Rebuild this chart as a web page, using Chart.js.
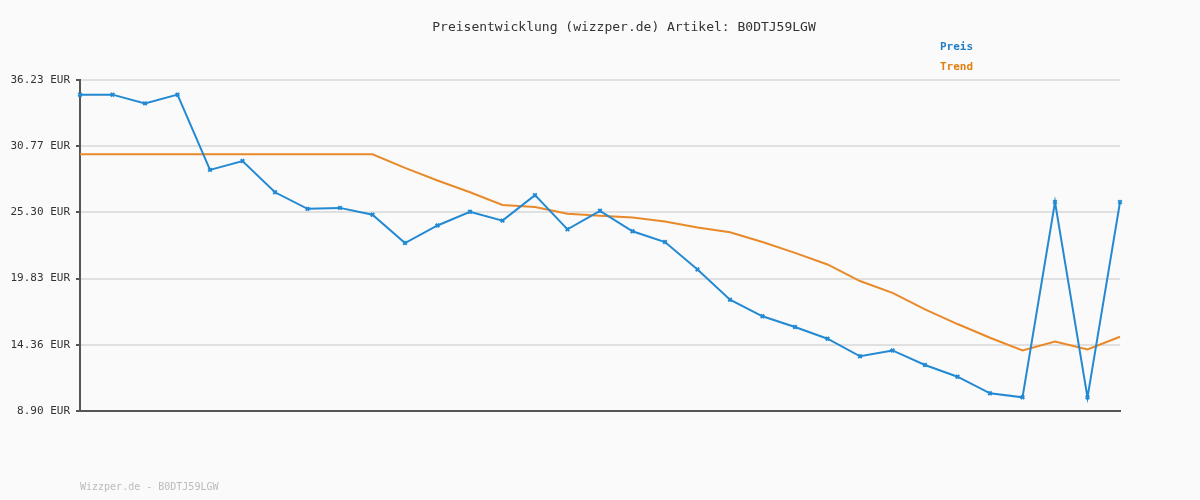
<!DOCTYPE html>
<html><head><meta charset="utf-8">
<script src="https://cdn.jsdelivr.net/npm/chart.js@4/dist/chart.umd.min.js"></script>
<style>html,body{margin:0;background:#fafafa}#w{width:1200px;height:500px}</style>
</head><body><div id="w"><canvas id="c"></canvas></div>
<script>
const labels = Array.from({length:33},(_,i)=>String(i+1));
const preis = [35.02,35.02,34.30,35.02,28.81,29.54,26.96,25.59,25.67,25.11,22.77,24.22,25.35,24.62,26.72,23.90,25.43,23.74,22.85,20.59,18.09,16.72,15.84,14.87,13.42,13.90,12.70,11.73,10.36,10.03,26.15,10.03,26.15];
const trend = [30.10,30.10,30.10,30.10,30.10,30.10,30.10,30.10,30.10,30.10,28.98,27.93,26.96,25.91,25.75,25.19,25.03,24.87,24.54,24.06,23.66,22.85,21.96,21.00,19.63,18.66,17.29,16.08,14.95,13.90,14.63,13.98,15.03];
const yTicks = [8.90,14.36,19.83,25.30,30.77,36.23];
const FONT = '"DejaVu Sans Mono", monospace';
const textPlugin = {id:'txt', afterDraw(ch){
  const c=ch.ctx; c.save(); c.textBaseline='middle';
  c.font='13px '+FONT; c.fillStyle='#333'; c.textAlign='center';
  c.fillText('Preisentwicklung (wizzper.de) Artikel: B0DTJ59LGW',624,28);
  c.font='bold 11px '+FONT; c.textAlign='left';
  c.fillStyle='#1f7fc4'; c.fillText(ch.data.datasets[0].label,940,47);
  c.fillStyle='#e07f10'; c.fillText(ch.data.datasets[1].label,940,67);
  c.font='10px '+FONT; c.fillStyle='#bbb'; c.fillText('Wizzper.de - B0DTJ59LGW',80,487);
  c.restore();
}};
new Chart(document.getElementById('c'),{
  type:'line',
  data:{labels,datasets:[
    {label:'Preis',data:preis,borderColor:'#2289d2',backgroundColor:'#2289d2',borderWidth:2,pointStyle:'crossRot',pointRadius:2.5,pointBorderWidth:2,tension:0},
    {label:'Trend',data:trend,borderColor:'#e8892a',borderWidth:2,pointRadius:0,tension:0}
  ]},
  options:{responsive:true,maintainAspectRatio:false,animation:false,clip:false,
    layout:{padding:{top:80,right:80,bottom:81,left:0}},
    plugins:{legend:{display:false},title:{display:false},tooltip:{enabled:false}},
    scales:{
      x:{offset:false,ticks:{display:false},grid:{display:false},border:{display:true,color:'#555',width:2}},
      y:{min:8.90,max:36.23,afterFit(s){s.width=80;},
        afterBuildTicks(s){s.ticks=yTicks.map(v=>({value:v}));},
        ticks:{callback:v=>v.toFixed(2)+' EUR',color:'#333',font:{family:FONT,size:11},padding:6},
        grid:{color:'#e0e0e0',lineWidth:2,drawTicks:true,tickLength:4,tickColor:'#555'},
        border:{display:true,color:'#555',width:2}}
    }},
  plugins:[textPlugin]
});
</script></body></html>
